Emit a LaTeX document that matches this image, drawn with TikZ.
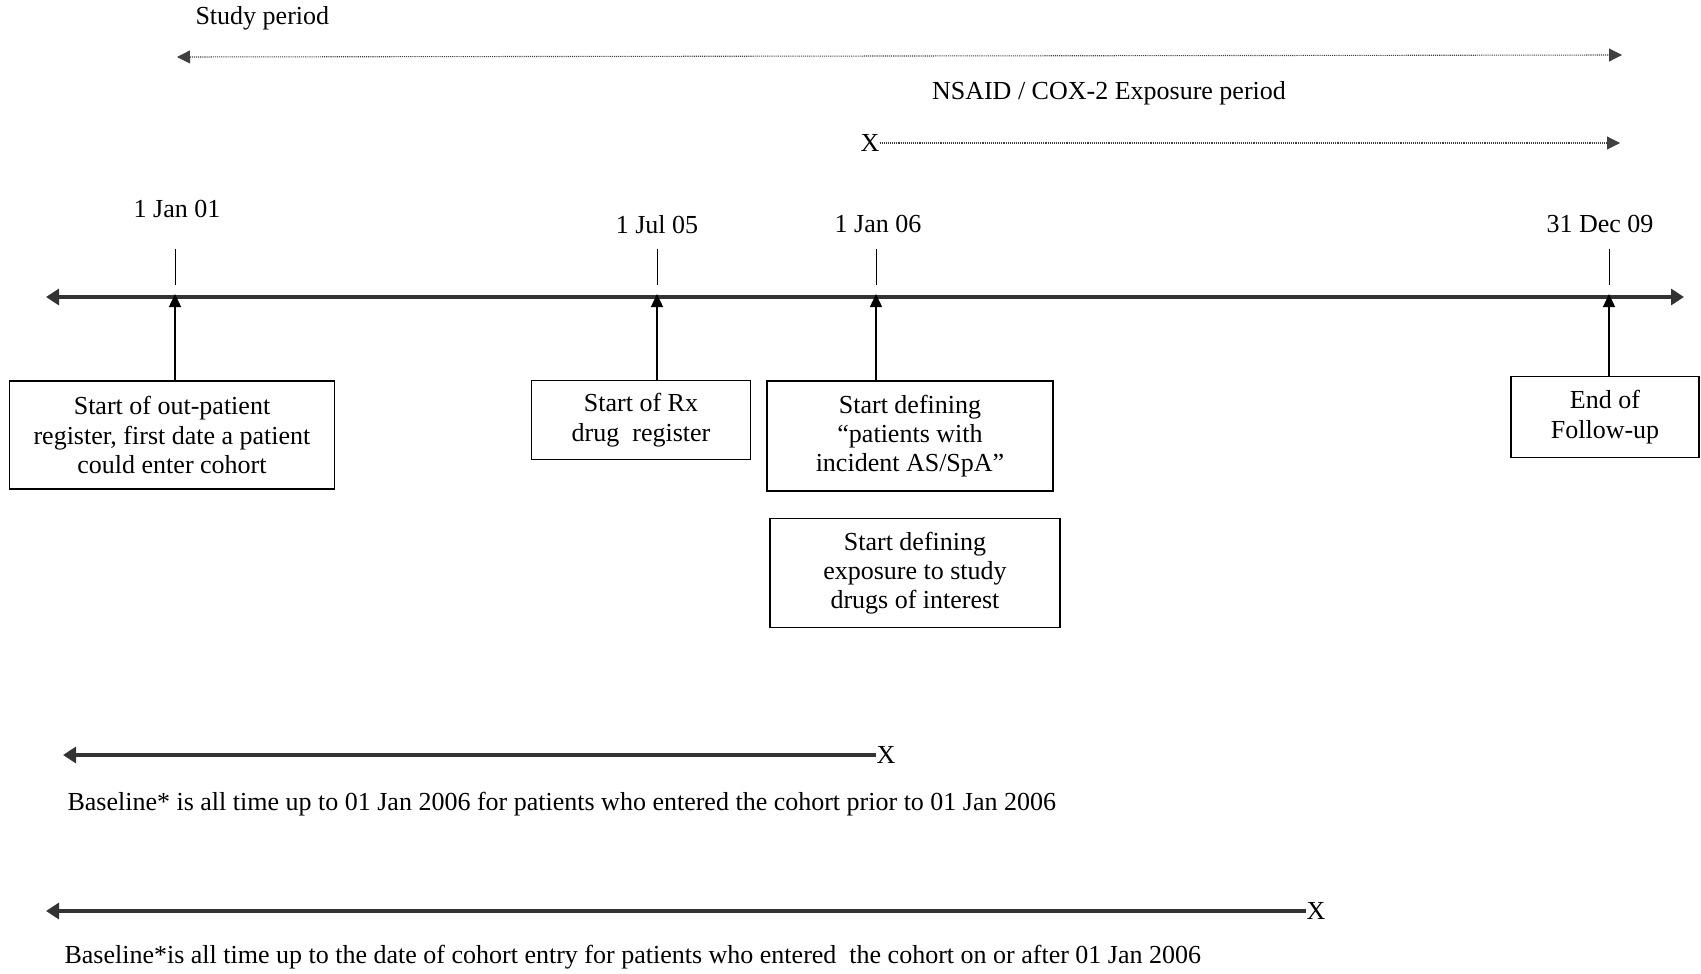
\documentclass[tikz,border=0pt]{standalone}
\usepackage{fontspec}
\setmainfont{Liberation Serif}
\usepackage{tikz}
\usetikzlibrary{arrows.meta,positioning}

\begin{document}
\begin{tikzpicture}[x=1pt,y=-1pt,
  every node/.style={font=\fontsize{26}{29.3}\selectfont},
  box/.style={draw,line width=1.2pt,align=center,inner sep=0pt},
  period/.style={densely dotted,line width=1.1pt,black!75,-{Triangle[length=13pt,width=13pt]}},
  axis/.style={line width=3.2pt,black!80,{Triangle[length=13pt,width=16pt]}-{Triangle[length=13pt,width=16pt]}},
  base/.style={line width=3.2pt,black!80,{Triangle[length=13pt,width=16pt]}-},
  up/.style={line width=1.4pt,-{Triangle[length=13pt,width=12pt]}}]
  \useasboundingbox (0,0) rectangle (1701,974);

  % periods
  \node[anchor=west] (study) at (192,18) {Study period};
  \coordinate (sL) at (177,57);
  \coordinate (sR) at (1622,55);
  \draw[period,{Triangle[length=13pt,width=13pt]}-{Triangle[length=13pt,width=13pt]}] (sL) -- (sR);
  \node (nsaid) at (1109,93) {NSAID / COX-2 Exposure period};
  \node[inner sep=0pt] (xn) at (870,143) {X};
  \coordinate (nR) at (1620,143);
  \draw[period] (xn.east) -- (nR);

  % time axis
  \coordinate (axL) at (46,297);
  \coordinate (axR) at (1684,297);
  \draw[axis] (axL) -- (axR);
  \foreach \n/\x in {t1/175,t2/657,t3/876,t4/1609}{
    \coordinate (\n) at (\x,249);
    \draw[line width=1pt] (\n) -- ++(0,36);
  }
  \node (d1) at (177,209) {1 Jan 01};
  \node (d2) at (657,225) {1 Jul 05};
  \node (d3) at (878,224) {1 Jan 06};
  \node (d4) at (1600,224) {31 Dec 09};

  % events
  \node[box,minimum width=325pt,minimum height=108pt] (opr) at (172,435)
    {Start of out-patient\\register, first date a patient\\could enter cohort};
  \node[box,minimum width=219pt,minimum height=79pt] (rx) at (641,420)
    {Start of Rx\\drug\ \ register};
  \node[box,minimum width=286pt,minimum height=110pt] (inc) at (910,436)
    {Start defining\\``patients with\\incident AS/SpA''};
  \node[box,minimum width=290pt,minimum height=109pt] (expo) at (915,573)
    {Start defining\\exposure to study\\drugs of interest};
  \node[box,minimum width=188pt,minimum height=81pt] (fu) at (1605,417)
    {End of\\Follow-up};
  \draw[up] (t1 |- opr.north) -- ([yshift=3pt]t1 |- axL);
  \draw[up] (t2 |- rx.north) -- ([yshift=3pt]t2 |- axL);
  \draw[up] (t3 |- inc.north) -- ([yshift=3pt]t3 |- axL);
  \draw[up] (t4 |- fu.north) -- ([yshift=3pt]t4 |- axL);

  % baselines
  \node[inner sep=0pt] (xb1) at (886,755) {X};
  \coordinate (b1L) at (63,755);
  \draw[base] (b1L) -- (xb1.west);
  \node[anchor=west] (txt1) at (64,804)
    {Baseline* is all time up to 01 Jan 2006 for patients who entered the cohort prior to 01 Jan 2006};
  \node[inner sep=0pt] (xb2) at (1316,911) {X};
  \coordinate (b2L) at (46,911);
  \draw[base] (b2L) -- (xb2.west);
  \node[anchor=west] (txt2) at (61,957)
    {Baseline*is all time up to the date of cohort entry for patients who entered\ \ the cohort on or after 01 Jan 2006};
\end{tikzpicture}
\end{document}
